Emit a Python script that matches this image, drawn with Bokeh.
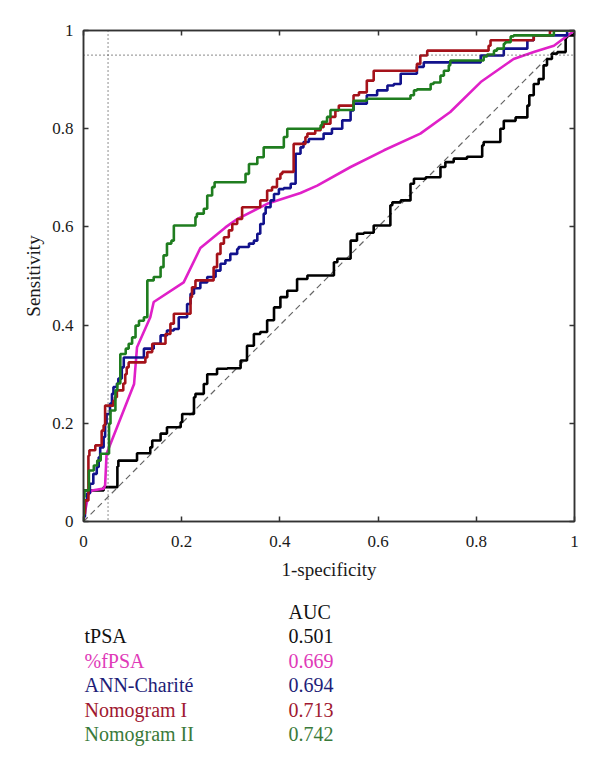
from bokeh.plotting import figure
from bokeh.models import Range1d, LinearAxis, FixedTicker, Span
from bokeh.layouts import column
from bokeh.core.properties import value
from bokeh.embed import file_html
from bokeh.resources import INLINE

# ---------------- data ----------------
tick_values = [0, 0.2, 0.4, 0.6, 0.8, 1]
tick_labels = ["0", "0.2", "0.4", "0.6", "0.8", "1"]

x_label = "1-specificity"
y_label = "Sensitivity"

spec_ref = 0.05   # vertical dotted reference (1-specificity)
sens_ref = 0.95   # horizontal dotted reference (sensitivity)

series_names = ["tPSA", "%fPSA", "ANN-Charité", "Nomogram I", "Nomogram II"]
auc_header = "AUC"
auc_values = ["0.501", "0.669", "0.694", "0.713", "0.742"]

tpsa_x = [0, 0, 0.041, 0.045, 0.069, 0.071, 0.075, 0.109, 0.112, 0.136, 0.14, 0.157, 0.17, 0.198,
          0.201, 0.225, 0.228, 0.245, 0.252, 0.272, 0.293, 0.32, 0.333, 0.347, 0.36, 0.374, 0.388,
          0.401, 0.415, 0.435, 0.456, 0.469, 0.51, 0.517, 0.544, 0.557, 0.571, 0.591, 0.625, 0.629,
          0.646, 0.666, 0.673, 0.697, 0.727, 0.737, 0.754, 0.781, 0.812, 0.815, 0.849, 0.856, 0.88,
          0.904, 0.908, 0.917, 0.927, 0.937, 0.944, 0.954, 0.965, 0.982, 0.985, 0.999, 1.0]
tpsa_y = [0, 0.063, 0.063, 0.07, 0.07, 0.112, 0.124, 0.124, 0.139, 0.139, 0.151, 0.165, 0.179, 0.192,
          0.202, 0.219, 0.253, 0.26, 0.28, 0.30, 0.311, 0.312, 0.328, 0.358, 0.382, 0.386, 0.41,
          0.436, 0.457, 0.47, 0.494, 0.501, 0.501, 0.528, 0.535, 0.572, 0.586, 0.588, 0.603, 0.644,
          0.65, 0.654, 0.688, 0.698, 0.701, 0.722, 0.732, 0.739, 0.743, 0.766, 0.773, 0.80, 0.816,
          0.823, 0.847, 0.868, 0.891, 0.901, 0.929, 0.942, 0.953, 0.956, 0.986, 0.99, 1.0]

ffpsa_x = [0, 0.003, 0.01, 0.017, 0.041, 0.044, 0.047, 0.103, 0.109, 0.136, 0.143, 0.204, 0.238,
           0.289, 0.313, 0.374, 0.442, 0.476, 0.544, 0.612, 0.686, 0.747, 0.809, 0.876, 0.917,
           0.958, 1.0]
ffpsa_y = [0, 0.019, 0.056, 0.063, 0.067, 0.073, 0.138, 0.28, 0.355, 0.416, 0.447, 0.487, 0.557,
           0.599, 0.616, 0.647, 0.669, 0.684, 0.722, 0.756, 0.79, 0.834, 0.895, 0.942, 0.956,
           0.969, 1.0]

ann_x = [0, 0.003, 0.007, 0.013, 0.02, 0.027, 0.031, 0.034, 0.041, 0.044, 0.047, 0.054, 0.058,
         0.061, 0.068, 0.071, 0.078, 0.082, 0.096, 0.123, 0.143, 0.157, 0.17, 0.184, 0.194, 0.211,
         0.218, 0.225, 0.238, 0.252, 0.269, 0.279, 0.289, 0.299, 0.313, 0.316, 0.337, 0.347, 0.354,
         0.36, 0.367, 0.371, 0.381, 0.388, 0.398, 0.408, 0.422, 0.432, 0.432, 0.442, 0.448, 0.459,
         0.469, 0.489, 0.506, 0.527, 0.544, 0.55, 0.577, 0.598, 0.619, 0.632, 0.646, 0.679, 0.693,
         0.697, 0.809, 0.856, 0.904, 0.917, 0.985, 1.0]
ann_y = [0, 0.01, 0.043, 0.057, 0.077, 0.097, 0.111, 0.131, 0.151, 0.172, 0.199, 0.219, 0.24,
         0.26, 0.274, 0.281, 0.291, 0.314, 0.334, 0.334, 0.352, 0.362, 0.379, 0.389, 0.392, 0.416,
         0.443, 0.464, 0.475, 0.487, 0.498, 0.511, 0.525, 0.532, 0.545, 0.555, 0.559, 0.566, 0.572,
         0.586, 0.606, 0.627, 0.64, 0.654, 0.667, 0.677, 0.679, 0.688, 0.745, 0.749, 0.762, 0.773,
         0.779, 0.779, 0.79, 0.80, 0.817, 0.837, 0.851, 0.868, 0.878, 0.888, 0.891, 0.912, 0.926,
         0.935, 0.935, 0.949, 0.963, 0.98, 0.99, 1.0]

nomo1_x = [0, 0.003, 0.01, 0.012, 0.024, 0.027, 0.037, 0.041, 0.044, 0.047, 0.061, 0.064, 0.068,
           0.075, 0.081, 0.085, 0.088, 0.092, 0.102, 0.126, 0.130, 0.140, 0.147, 0.167, 0.177,
           0.184, 0.187, 0.218, 0.221, 0.228, 0.242, 0.265, 0.272, 0.279, 0.286, 0.296, 0.303,
           0.313, 0.323, 0.337, 0.36, 0.374, 0.384, 0.394, 0.401, 0.405, 0.428, 0.432, 0.452,
           0.456, 0.472, 0.483, 0.489, 0.503, 0.513, 0.52, 0.55, 0.561, 0.577, 0.591, 0.639, 0.679,
           0.686, 0.70, 0.727, 0.825, 0.829, 0.87, 0.917, 0.95, 1.0]
nomo1_y = [0, 0.016, 0.043, 0.134, 0.145, 0.155, 0.155, 0.185, 0.196, 0.236, 0.236, 0.246, 0.253,
           0.267, 0.267, 0.281, 0.300, 0.314, 0.324, 0.324, 0.334, 0.345, 0.362, 0.362, 0.382,
           0.403, 0.423, 0.423, 0.457, 0.477, 0.491, 0.491, 0.518, 0.545, 0.566, 0.579, 0.593,
           0.606, 0.616, 0.64, 0.64, 0.654, 0.674, 0.681, 0.698, 0.708, 0.712, 0.769, 0.769,
           0.783, 0.79, 0.797, 0.803, 0.81, 0.824, 0.837, 0.847, 0.868, 0.874, 0.898, 0.918, 0.918,
           0.932, 0.949, 0.959, 0.959, 0.969, 0.98, 0.98, 0.99, 1.0]

nomo2_x = [0, 0.002, 0.011, 0.021, 0.028, 0.035, 0.052, 0.055, 0.065, 0.069, 0.075, 0.086, 0.092,
           0.099, 0.106, 0.113, 0.123, 0.130, 0.130, 0.143, 0.157, 0.163, 0.170, 0.179, 0.184,
           0.186, 0.228, 0.231, 0.245, 0.252, 0.262, 0.267, 0.279, 0.33, 0.337, 0.354, 0.367,
           0.377, 0.408, 0.415, 0.428, 0.442, 0.483, 0.486, 0.496, 0.503, 0.523, 0.55, 0.577,
           0.591, 0.666, 0.673, 0.679, 0.707, 0.713, 0.727, 0.734, 0.744, 0.747, 0.758, 0.815,
           0.822, 0.836, 0.842, 0.856, 0.859, 0.87, 0.876, 0.958, 1.0]
nomo2_y = [0, 0.05, 0.063, 0.104, 0.114, 0.124, 0.138, 0.199, 0.226, 0.267, 0.281, 0.341, 0.352,
           0.362, 0.375, 0.399, 0.409, 0.416, 0.481, 0.491, 0.498, 0.518, 0.542, 0.566, 0.572,
           0.603, 0.603, 0.62, 0.627, 0.637, 0.664, 0.681, 0.691, 0.691, 0.708, 0.728, 0.742,
           0.762, 0.762, 0.783, 0.80, 0.80, 0.80, 0.807, 0.814, 0.824, 0.838, 0.838, 0.857,
           0.861, 0.861, 0.868, 0.878, 0.88, 0.891, 0.894, 0.908, 0.918, 0.929, 0.939, 0.939,
           0.947, 0.951, 0.959, 0.963, 0.973, 0.976, 0.988, 0.99, 1.0]

# ---------------- style ----------------
FONT = "Liberation Serif"
line_colors = ["#000000", "#e020c8", "#12128c", "#a5121a", "#1f7d1f"]
text_colors = ["#111111", "#e03ab8", "#1e1e78", "#a01830", "#3a7a3a"]
AXIS_COLOR = "#333333"
W = 600
MAIN_H = 590
TABLE_H = 176
LEFT, RIGHT = 83, 26

p = figure(width=W, height=MAIN_H, output_backend="svg", toolbar_location=None,
           x_range=Range1d(0, 1), y_range=Range1d(0, 1),
           x_axis_label=x_label, y_axis_label=y_label,
           min_border_left=LEFT, min_border_right=RIGHT, min_border_top=30, min_border_bottom=69)
p.grid.visible = False
p.outline_line_color = AXIS_COLOR
p.outline_line_width = 1.5
p.background_fill_color = "white"
p.border_fill_color = "white"

bottom_axis = p.below[0]
left_axis = p.left[0]
top_axis = LinearAxis()
right_axis = LinearAxis()
p.add_layout(top_axis, "above")
p.add_layout(right_axis, "right")

for ax in (bottom_axis, left_axis, top_axis, right_axis):
    ax.ticker = FixedTicker(ticks=tick_values)
    ax.major_label_overrides = {v: s for v, s in zip(tick_values, tick_labels)}
    ax.minor_tick_line_color = None
    ax.major_tick_in = 5
    ax.major_tick_out = 0
    ax.major_tick_line_color = AXIS_COLOR
    ax.major_tick_line_width = 1.5
    ax.axis_line_color = AXIS_COLOR
    ax.axis_line_width = 1.5
    ax.major_label_text_font = FONT
    ax.major_label_text_font_size = "17px"
    ax.major_label_text_color = "#1a1a1a"
    ax.axis_label_text_font = FONT
    ax.axis_label_text_font_size = "19px"
    ax.axis_label_text_font_style = "normal"
    ax.axis_label_text_color = "#1a1a1a"

for ax in (top_axis, right_axis):
    ax.major_label_text_font_size = "0px"
    ax.major_label_text_color = None
    ax.major_label_standoff = 0

bottom_axis.major_label_standoff = 14
bottom_axis.axis_label_standoff = 9
left_axis.major_label_standoff = 10
left_axis.axis_label_standoff = 5

# reference lines
p.line([0, 1], [0, 1], line_color="#666666", line_width=1.2, line_dash="6 4")
p.add_layout(Span(location=spec_ref, dimension="height", line_color="#444444",
                  line_width=1.2, line_dash="1 3"))
p.add_layout(Span(location=sens_ref, dimension="width", line_color="#444444",
                  line_width=1.2, line_dash="1 3"))

# curves
p.step(tpsa_x, tpsa_y, mode="before", line_color=line_colors[0], line_width=2.6)
p.line(ffpsa_x, ffpsa_y, line_color=line_colors[1], line_width=2.6)
p.step(ann_x, ann_y, mode="before", line_color=line_colors[2], line_width=2.6)
p.step(nomo1_x, nomo1_y, mode="before", line_color=line_colors[3], line_width=2.6)
p.step(nomo2_x, nomo2_y, mode="before", line_color=line_colors[4], line_width=2.6)

# ---------------- AUC table (separate panel; x in page pixels, y downward) ----------------
t = figure(width=W, height=TABLE_H, output_backend="svg", toolbar_location=None,
           x_range=Range1d(LEFT, W - RIGHT), y_range=Range1d(TABLE_H, 0),
           min_border_left=LEFT, min_border_right=RIGHT, min_border_top=0, min_border_bottom=0,
           outline_line_color=None)
t.axis.visible = False
t.grid.visible = False

name_col = 84
auc_col = 288
header_row = 21
row_step = 24.5
rows = [header_row + (i + 1) * row_step for i in range(len(series_names))]

t.text(x=[auc_col], y=[header_row], text=[auc_header], text_font=value(FONT),
       text_font_size="20px", text_color="#111111", text_baseline="middle")
t.text(x=[name_col] * len(series_names), y=rows, text=series_names, text_font=value(FONT),
       text_font_size="20px", text_color=text_colors, text_baseline="middle")
t.text(x=[auc_col] * len(auc_values), y=rows, text=auc_values, text_font=value(FONT),
       text_font_size="20px", text_color=text_colors, text_baseline="middle")

layout = column(p, t, spacing=0)
open("out.html", "w").write(file_html(layout, INLINE))
